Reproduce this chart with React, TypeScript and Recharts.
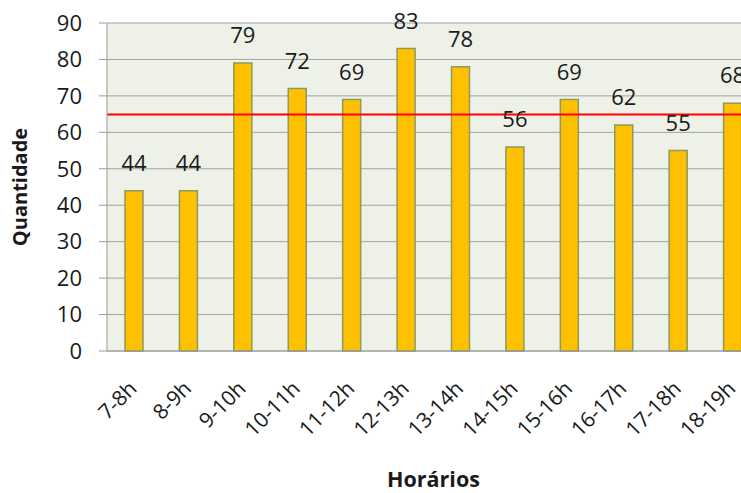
import { Bar, BarChart, CartesianGrid, LabelList, ReferenceLine, XAxis, YAxis } from "recharts"

const horarios = ["7-8h", "8-9h", "9-10h", "10-11h", "11-12h", "12-13h", "13-14h", "14-15h", "15-16h", "16-17h", "17-18h", "18-19h"]
const quantidade = [44, 44, 79, 72, 69, 83, 78, 56, 69, 62, 55, 68]
const yTicks = [0, 10, 20, 30, 40, 50, 60, 70, 80, 90]
const MEDIA = 64.9

const FONT = "'Open Sans', 'Noto Sans', sans-serif"

const data = horarios.map((h, i) => ({ h, q: quantidade[i] }))

function XTick({ x, y, payload }: { x?: number; y?: number; payload?: { value: string } }) {
  const ax = (x ?? 0) + 4
  const ay = (y ?? 0) + 31
  return (
    <text
      x={ax}
      y={ay}
      transform={`rotate(-45, ${ax}, ${ay})`}
      textAnchor="end"
      fontSize={21}
      fontFamily={FONT}
      fill="#1a1a1a"
    >
      {payload?.value}
    </text>
  )
}

function YTitle({ viewBox }: { viewBox?: { x: number; y: number; width: number; height: number } }) {
  const cx = 27
  const cy = (viewBox?.y ?? 0) + (viewBox?.height ?? 0) / 2
  return (
    <text x={cx} y={cy} transform={`rotate(-90, ${cx}, ${cy})`} textAnchor="middle" fontSize={20} fontWeight="bold" fontFamily={FONT} fill="#1a1a1a">
      Quantidade
    </text>
  )
}

function XTitle({ viewBox }: { viewBox?: { x: number; y: number; width: number; height: number } }) {
  const cx = (viewBox?.x ?? 0) + (viewBox?.width ?? 0) / 2
  return (
    <text x={cx} y={487} textAnchor="middle" fontSize={21.5} fontWeight="bold" fontFamily={FONT} fill="#1a1a1a">
      Horários
    </text>
  )
}

export default function App() {
  return (
    <div style={{ position: "absolute", left: 0, top: 0, width: 741, height: 493, overflow: "hidden", background: "#fff" }}>
      <BarChart width={760} height={493} data={data} margin={{ top: 23, right: 0, left: 0, bottom: 0 }}>
        <CartesianGrid vertical={false} stroke="#a3a3a3" fill="#eef1e8" fillOpacity={1} />
        <XAxis
          dataKey="h"
          height={142}
          interval={0}
          axisLine={{ stroke: "#9a9a9a" }}
          tickLine={false}
          tick={<XTick />}
          label={<XTitle />}
        />
        <YAxis
          width={107}
          domain={[0, 90]}
          ticks={yTicks}
          interval={0}
          tickSize={8}
          tickMargin={17}
          axisLine={{ stroke: "#9a9a9a" }}
          tickLine={{ stroke: "#9a9a9a" }}
          tick={{ fontSize: 22, fontFamily: FONT, fill: "#1a1a1a" }}
          label={<YTitle />}
        />
        <Bar dataKey="q" barSize={18} fill="#ffc000" stroke="#8c9a5c" strokeWidth={1.5} isAnimationActive={false}>
          <LabelList dataKey="q" position="top" offset={20} fontSize={22} fontFamily={FONT} fill="#1a1a1a" />
        </Bar>
        <ReferenceLine y={MEDIA} stroke="#ff0000" strokeWidth={2} ifOverflow="extendDomain" />
      </BarChart>
    </div>
  )
}
